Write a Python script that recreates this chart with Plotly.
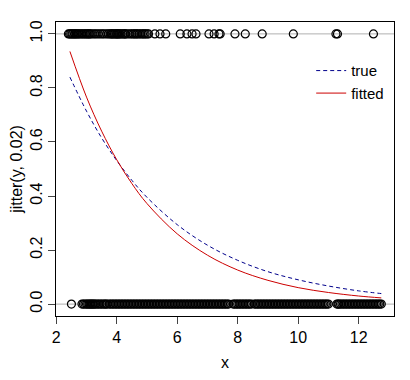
import plotly.graph_objects as go

# Observations at y = 1 (top row) and y = 0 (bottom row)
top_x = [2.40, 2.44, 2.48, 2.52, 2.55, 2.60, 2.62, 2.66, 2.70, 2.74, 2.78, 2.83, 2.88, 2.92,
         2.97, 3.01, 3.05, 3.09, 3.12, 3.18, 3.25, 3.31, 3.38, 3.45, 3.52, 3.58, 3.66, 3.72,
         3.78, 3.82, 3.85, 3.89, 3.93, 3.97, 4.00, 4.03, 4.06, 4.10, 4.14, 4.19, 4.24, 4.27,
         4.30, 4.37, 4.44, 4.50, 4.55, 4.60, 4.64, 4.69, 4.74, 4.80, 4.85, 4.90, 4.94, 5.00,
         5.05, 5.26, 5.43, 5.62, 6.10, 6.32, 6.49, 6.62, 7.05, 7.22, 7.38, 7.42, 7.91, 8.25,
         8.81, 9.84, 11.25, 11.30, 12.49]
bottom_x = [2.50, 2.85, 2.90, 2.95, 3.00, 3.04, 3.08, 3.12, 3.15, 3.19, 3.22, 3.26, 3.30, 3.35,
            3.40, 3.45, 3.50, 3.55, 3.60, 3.64, 3.68, 3.75, 3.80, 3.85, 3.90, 3.95, 4.00, 4.05,
            4.10, 4.15, 4.20, 4.25, 4.30, 4.35, 4.40, 4.45, 4.50, 4.55, 4.60, 4.65, 4.70, 4.75,
            4.80, 4.85, 4.90, 4.95, 5.00, 5.05, 5.10, 5.15, 5.20, 5.25, 5.30, 5.35, 5.40, 5.45,
            5.50, 5.55, 5.60, 5.65, 5.70, 5.75, 5.80, 5.85, 5.90, 5.95, 6.00, 6.05, 6.10, 6.15,
            6.20, 6.25, 6.30, 6.35, 6.40, 6.45, 6.50, 6.55, 6.60, 6.65, 6.70, 6.75, 6.80, 6.85,
            6.90, 6.95, 7.00, 7.05, 7.10, 7.15, 7.20, 7.25, 7.30, 7.35, 7.40, 7.45, 7.50, 7.55,
            7.60, 7.65, 7.70, 7.85, 7.90, 7.95, 8.00, 8.05, 8.10, 8.15, 8.20, 8.25, 8.30, 8.35,
            8.40, 8.45, 8.55, 8.60, 8.65, 8.70, 8.75, 8.80, 8.85, 8.90, 8.95, 9.00, 9.05, 9.10,
            9.15, 9.20, 9.25, 9.30, 9.35, 9.40, 9.45, 9.50, 9.55, 9.60, 9.65, 9.70, 9.75, 9.80,
            9.85, 9.90, 9.95, 10.00, 10.05, 10.10, 10.15, 10.20, 10.25, 10.30, 10.35, 10.40,
            10.45, 10.50, 10.55, 10.60, 10.65, 10.70, 10.75, 10.80, 10.85, 10.90, 10.95, 11.00,
            11.28, 11.32, 11.35, 11.40, 11.45, 11.50, 11.55, 11.60, 11.65, 11.70, 11.75, 11.80,
            11.85, 11.90, 11.95, 12.00, 12.05, 12.10, 12.15, 12.20, 12.25, 12.30, 12.35, 12.40,
            12.45, 12.50, 12.55, 12.60, 12.65, 12.70, 12.75]
top_y = [1.0] * len(top_x)
bottom_y = [0.0] * len(bottom_x)

# Curves
curve_x = [2.45, 3.0, 3.5, 4.0, 4.5, 5.0, 6.0, 7.0, 8.0, 9.0, 10.0, 11.0, 12.0, 12.75]
true_y = [0.840, 0.714, 0.615, 0.531, 0.458, 0.395, 0.294, 0.218, 0.162, 0.120, 0.090, 0.067, 0.049, 0.039]
fitted_y = [0.935, 0.766, 0.640, 0.534, 0.446, 0.372, 0.260, 0.181, 0.126, 0.088, 0.061, 0.043, 0.030, 0.023]

x_ticks = [2, 4, 6, 8, 10, 12]
y_ticks = [0.0, 0.2, 0.4, 0.6, 0.8, 1.0]
y_tick_text = ["0.0", "0.2", "0.4", "0.6", "0.8", "1.0"]

FONT = "Liberation Sans, Arial, sans-serif"

fig = go.Figure()
# gray reference lines at 0 and 1
for h in (0, 1):
    fig.add_hline(y=h, line=dict(color="#b0b0b0", width=1), layer="below")

fig.add_trace(go.Scatter(x=top_x + bottom_x, y=top_y + bottom_y, mode="markers",
                         marker=dict(symbol="circle-open", size=8, color="black",
                                     line=dict(width=1.2, color="black")),
                         showlegend=False, hoverinfo="skip"))
fig.add_trace(go.Scatter(x=curve_x, y=true_y, mode="lines", name="true",
                         line=dict(color="#00008b", width=1, dash="4px,3px", shape="spline")))
fig.add_trace(go.Scatter(x=curve_x, y=fitted_y, mode="lines", name="fitted",
                         line=dict(color="#cc0000", width=1, shape="spline")))

fig.update_layout(
    width=402, height=372,
    margin=dict(l=48, r=16, t=14, b=64),
    paper_bgcolor="white", plot_bgcolor="white",
    font=dict(family=FONT, size=16, color="black"),
    legend=dict(x=0.755, y=0.89, xanchor="left", yanchor="top",
                bgcolor="rgba(0,0,0,0)", font=dict(size=15, family=FONT),
                tracegroupgap=0, itemwidth=30),
)
fig.update_xaxes(range=[1.99, 13.17], tickvals=x_ticks, ticks="outside", ticklen=7,
                 showline=True, linecolor="black", linewidth=1, mirror=True,
                 showgrid=False, zeroline=False, automargin=False,
                 title=dict(text="x", font=dict(size=16), standoff=11))
fig.update_yaxes(range=[-0.044, 1.044], tickvals=y_ticks, ticktext=y_tick_text,
                 tickangle=-90, ticks="outside", ticklen=7,
                 showline=True, linecolor="black", linewidth=1, mirror=True,
                 showgrid=False, zeroline=False, automargin=False,
                 title=dict(text="jitter(y, 0.02)", font=dict(size=16), standoff=6))

fig.write_html("out.html")
